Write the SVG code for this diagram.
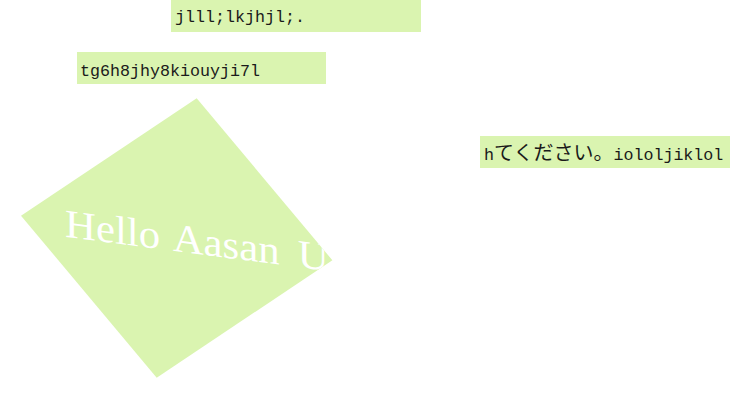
<svg xmlns="http://www.w3.org/2000/svg" width="730" height="410" viewBox="0 0 730 410">
  <style>
    .box { fill: #daf4b0; }
    .lbl { font-family: "Liberation Mono", "DejaVu Sans Mono", monospace; font-size: 16.67px; fill: #1a1a1a; }
    .cjk { font-family: "Noto Sans CJK JP", "Noto Sans CJK SC", sans-serif; font-size: 20px; }
    .big { font-family: "Liberation Serif", "Times New Roman", serif; font-size: 40px; font-style: normal; font-weight: normal; fill: #ffffff; word-spacing: 4px; }
  </style>
  <defs>
    <clipPath id="diamondClip">
      <polygon points="196.7,98.3 332.4,260.3 156.7,377.7 21,215.7"/>
    </clipPath>
  </defs>
  <rect width="730" height="410" fill="#ffffff"/>

  <g id="node-diamond">
    <polygon class="box" points="196.7,98.3 332.4,260.3 156.7,377.7 21,215.7"/>
    <g clip-path="url(#diamondClip)">
      <text class="big" x="0" y="0" transform="translate(65 236.7) skewY(7.4) scale(1.07 1)">Hello Aasan <tspan dx="3">U</tspan></text>
    </g>
  </g>

  <g id="node-label1">
    <rect class="box" x="171" y="0" width="250" height="32"/>
    <text class="lbl" x="175" y="22">jlll;lkjhjl;.</text>
  </g>

  <g id="node-label2">
    <rect class="box" x="77" y="52" width="249" height="32"/>
    <text class="lbl" x="80" y="76">tg6h8jhy8kiouyji7l</text>
  </g>

  <g id="node-label3">
    <rect class="box" x="480" y="136" width="250" height="32"/>
    <text class="lbl" x="484" y="160">h<tspan class="cjk">てください。</tspan>iololjiklol</text>
  </g>
</svg>
